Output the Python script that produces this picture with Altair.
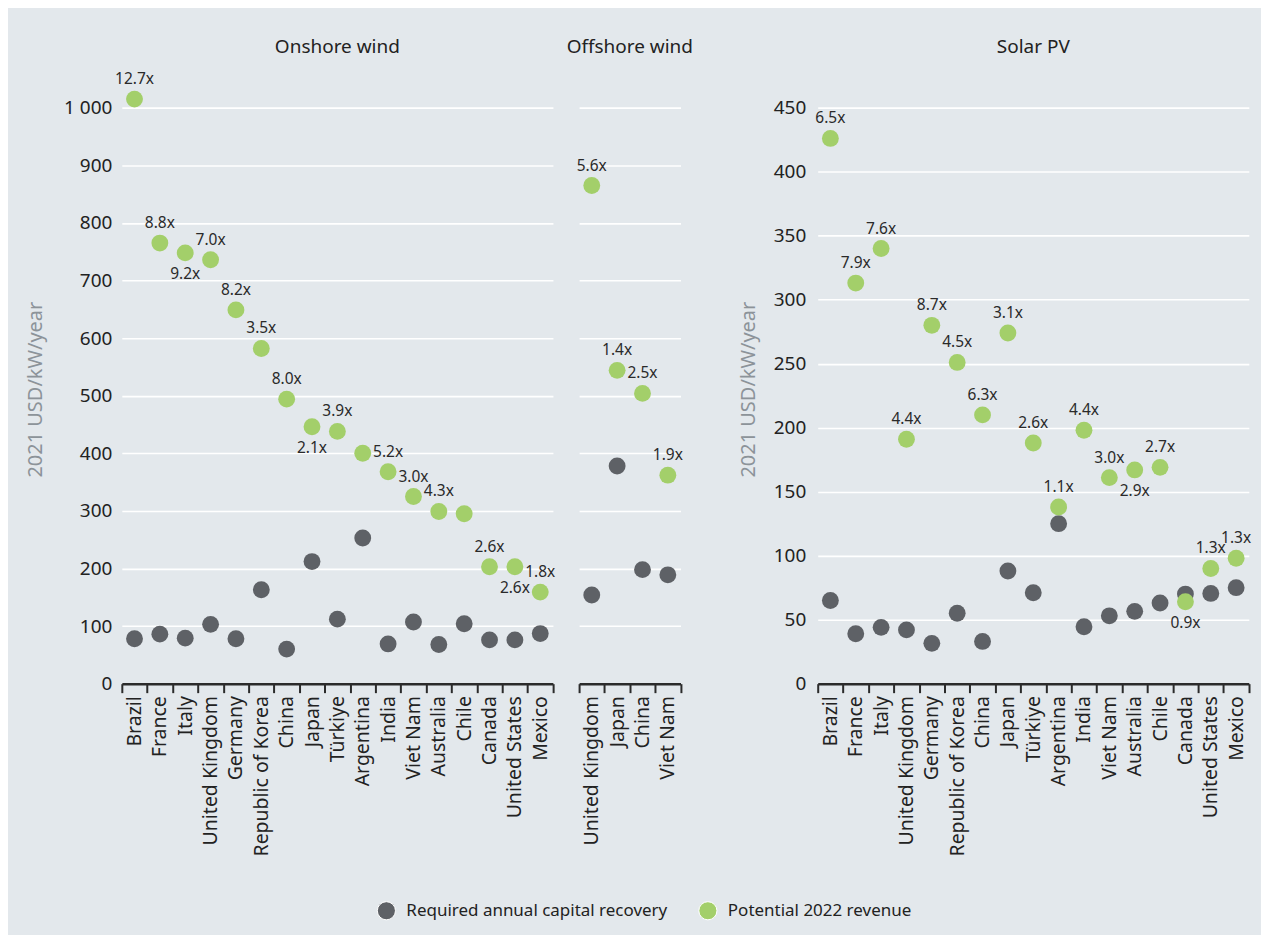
import altair as alt
import pandas as pd

CAP = "Required annual capital recovery"
REV = "Potential 2022 revenue"
GREY = "#5E6166"
GREEN = "#A3CF6A"
BG = "#E3E8EC"
FONT = "Noto Sans"

# ---------------- data ----------------
on_countries = ["Brazil", "France", "Italy", "United Kingdom", "Germany", "Republic of Korea",
                "China", "Japan", "Türkiye", "Argentina", "India", "Viet Nam", "Australia",
                "Chile", "Canada", "United States", "Mexico"]
on_capital = [78, 86, 79, 103, 78, 163, 60, 212, 112, 253, 69, 107, 68, 104, 76, 76, 87]
on_revenue = [1015, 765, 748, 736, 649, 582, 494, 446, 438, 400, 368, 325, 299, 295, 203, 203, 159]
on_ratio = ["12.7x", "8.8x", "9.2x", "7.0x", "8.2x", "3.5x", "8.0x", "2.1x", "3.9x", "",
            "5.2x", "3.0x", "4.3x", "", "2.6x", "2.6x", "1.8x"]
on_place = ["above", "above", "below", "above", "above", "above", "above", "below", "above", "none",
            "above", "above", "above", "none", "above", "below", "above"]

off_countries = ["United Kingdom", "Japan", "China", "Viet Nam"]
off_capital = [154, 378, 198, 189]
off_revenue = [865, 544, 504, 362]
off_ratio = ["5.6x", "1.4x", "2.5x", "1.9x"]
off_place = ["above", "above", "above", "above"]

pv_countries = ["Brazil", "France", "Italy", "United Kingdom", "Germany", "Republic of Korea",
                "China", "Japan", "Türkiye", "Argentina", "India", "Viet Nam", "Australia",
                "Chile", "Canada", "United States", "Mexico"]
pv_capital = [65, 39, 44, 42, 31.5, 55, 33, 88, 71, 125, 44.5, 53, 56.5, 63, 70, 70.5, 75]
pv_revenue = [426, 313, 340, 191, 280, 251, 210, 274, 188, 138, 198, 161, 167, 169, 64, 90, 98]
pv_ratio = ["6.5x", "7.9x", "7.6x", "4.4x", "8.7x", "4.5x", "6.3x", "3.1x", "2.6x", "1.1x",
            "4.4x", "3.0x", "2.9x", "2.7x", "0.9x", "1.3x", "1.3x"]
pv_place = ["above", "above", "above", "above", "above", "above", "above", "above", "above", "above",
            "above", "above", "below", "above", "below", "above", "above"]

wind_ticks = [0, 100, 200, 300, 400, 500, 600, 700, 800, 900, 1000]
pv_ticks = [0, 50, 100, 150, 200, 250, 300, 350, 400, 450]

STEP = 25.4
H = 623


def make_panel(countries, capital, revenue, ratio, place, ymax, yvalues, title, show_y,
               label_pad=10, title_x=-86):
    n = len(countries)
    pts = pd.DataFrame({
        "country": list(countries) * 2,
        "series": [CAP] * n + [REV] * n,
        "value": list(capital) + list(revenue),
    })
    lab = pd.DataFrame({"country": countries, "value": revenue, "label": ratio, "place": place})

    xaxis = alt.Axis(labelAngle=-90, tickBand="extent", title=None, grid=False,
                     domainColor="#2b2b2b", domainWidth=2.5, tickColor="#2b2b2b",
                     tickWidth=2, tickSize=9, labelPadding=3, labelFontSize=19.5,
                     labelColor="#222222", labelFont=FONT)
    x = alt.X("country:N", sort=list(countries), title=None,
              scale=alt.Scale(paddingInner=0, paddingOuter=0), axis=xaxis)
    x_plain = alt.X("country:N", sort=list(countries))

    if show_y:
        yaxis = alt.Axis(values=yvalues, title="2021 USD/kW/year", domain=False, ticks=False,
                         grid=True, gridColor="white", gridWidth=1.6,
                         labelExpr="replace(format(datum.value, ','), ',', ' ')",
                         labelFontSize=19, labelColor="#222222", labelFont=FONT,
                         labelPadding=label_pad, titleFontSize=20, titleColor="#8C9399",
                         titleFont=FONT, titleFontWeight="normal",
                         titleX=title_x, titleY=328, titleAngle=270,
                         titleAlign="center", titleBaseline="middle")
    else:
        yaxis = alt.Axis(values=yvalues, title=None, domain=False, ticks=False, labels=False,
                         grid=True, gridColor="white", gridWidth=1.6)
    y = alt.Y("value:Q", scale=alt.Scale(domain=[0, ymax], nice=False, zero=True), axis=yaxis)

    points = alt.Chart(pts).mark_circle(size=285, opacity=1).encode(
        x=x, y=y,
        color=alt.Color("series:N",
                        scale=alt.Scale(domain=[CAP, REV], range=[GREY, GREEN]),
                        legend=alt.Legend(title=None, orient="none", legendX=255, legendY=840,
                                          direction="horizontal")),
    )
    txt = dict(font=FONT, fontSize=15.5, color="#2a2a2a", baseline="middle", align="center")
    above = alt.Chart(lab).transform_filter(alt.datum.place == "above").mark_text(
        dy=-20, **txt).encode(x=x_plain, y=alt.Y("value:Q"), text="label:N")
    below = alt.Chart(lab).transform_filter(alt.datum.place == "below").mark_text(
        dy=21, **txt).encode(x=x_plain, y=alt.Y("value:Q"), text="label:N")

    return alt.layer(points, above, below).properties(
        width=n * STEP, height=H,
        title=alt.TitleParams(title, fontSize=19, font=FONT, fontWeight="normal",
                              color="#222222", offset=5),
    )


onshore = make_panel(on_countries, on_capital, on_revenue, on_ratio, on_place,
                     1080, wind_ticks, "Onshore wind", True, title_x=-86)
offshore = make_panel(off_countries, off_capital, off_revenue, off_ratio, off_place,
                      1080, wind_ticks, "Offshore wind", False)
solar = make_panel(pv_countries, pv_capital, pv_revenue, pv_ratio, pv_place,
                   486, pv_ticks, "Solar PV", True, label_pad=12, title_x=-69)

left = alt.hconcat(onshore, offshore, spacing=10)
chart = alt.hconcat(left, solar, spacing=45).resolve_scale(
    color="shared"
).properties(
    padding={"left": 18, "top": 29, "right": 9, "bottom": 12}
).configure(
    background=BG
).configure_view(
    stroke=None
).configure_legend(
    labelFont=FONT, labelFontSize=17, labelLimit=0,
    labelColor="#222222", symbolType="circle", symbolSize=330, symbolStrokeColor="white",
    symbolStrokeWidth=1, columnPadding=28, labelOffset=10, padding=0
)

chart.save("out.html", embed_options={"renderer": "svg", "actions": False})
